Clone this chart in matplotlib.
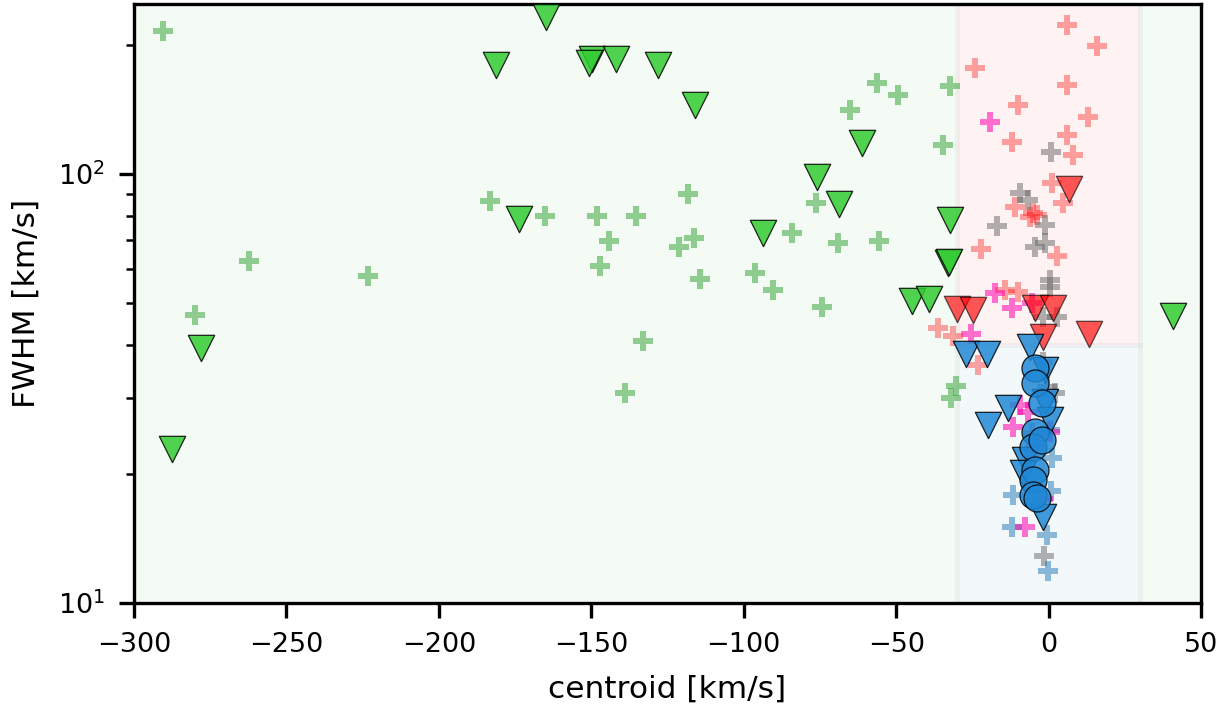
import numpy as np
import matplotlib.pyplot as plt

# broad components (green)
green_tri_x = [-164.8, -287.5, -278.0, -181.2, -149.7, -150.7, -141.9, -128.1, -116.0, -61.2,
               -75.9, -68.7, -173.7, -93.6, -44.8, -39.2, -32.3, -32.9, -32.6, 40.9]
green_tri_y = [232, 22.8, 39.3, 179, 185, 181, 185, 179, 145, 118,
               98.4, 85.1, 78.5, 72.8, 50.6, 51.2, 78.2, 62.1, 62.5, 46.7]
green_plus_x = [-290.5, -262.3, -223.2, -280.0, -183.2, -165.2, -148.1, -135.3, -144.2, -147.1,
                -133.0, -138.9, -118.2, -116.3, -121.2, -114.3, -96.3, -90.4, -84.1, -76.2,
                -74.3, -69.1, -65.1, -56.2, -49.4, -55.5, -32.3, -34.6, -30.3, -31.9]
green_plus_y = [215, 62.7, 57.8, 46.9, 86.5, 79.8, 79.8, 79.8, 69.8, 61.1,
                40.8, 30.8, 89.8, 71.0, 67.6, 56.9, 58.7, 53.7, 72.8, 85.5,
                49.0, 69.1, 141, 163, 153, 69.8, 160, 117, 32.0, 30.1]

# intermediate components (red)
red_tri_x = [6.8, -30.0, -24.7, -4.4, 1.5, -1.8, 13.3]
red_tri_y = [92.3, 48.4, 48.1, 48.8, 48.8, 41.7, 42.4]
red_plus_x = [6.1, 15.9, -24.1, 6.1, -10.0, 13.0, -12.0, 6.1, 8.1, 1.2,
              4.8, -10.9, -6.0, -3.7, -5.0, -22.1, 2.8, -14.2, -10.0, -36.2,
              -31.3, -23.1]
red_plus_y = [222, 199, 177, 161, 145, 136, 119, 123, 111, 95.3,
              85.5, 83.7, 79.4, 80.3, 81.0, 66.8, 64.4, 53.7, 53.1, 43.8,
              41.9, 35.9]

# narrow components (blue)
blue_tri_x = [-27.0, -20.2, -6.0, -1.1, -13.3, -19.8, -1.1, 0.5, -7.7, -8.3, -1.8]
blue_tri_y = [38.0, 38.0, 39.5, 34.9, 28.5, 26.0, 29.4, 26.7, 21.5, 20.1, 15.9]
blue_circ_x = [-4.4, -4.4, -2.1, -4.4, -5.0, -2.1, -4.4, -5.0, -5.0, -3.7]
blue_circ_y = [35.3, 32.6, 29.3, 25.0, 23.1, 24.0, 20.4, 19.4, 17.9, 17.6]
blue_plus_x = [-11.6, 0.9, -11.9, -0.5, -0.1, 1.2, 0.5]
blue_plus_y = [17.9, 18.2, 15.0, 14.4, 11.9, 21.8, 25.3]

# other
gray_plus_x = [0.9, -9.3, -6.7, -1.1, -16.9, -4.4, -1.1, 0.5, 0.5, -1.8,
               2.8, -1.8, -0.5, 2.2, -5.4, -1.4]
gray_plus_y = [112.5, 90.3, 87.0, 76.0, 75.6, 67.6, 69.0, 56.6, 54.6, 46.4,
               46.4, 36.5, 31.9, 30.9, 24.9, 12.9]
pink_plus_x = [-19.2, -17.5, -12.0, -25.4, -5.4, -9.3, -6.7, -11.6, 0.5, -4.4,
               -1.8, -7.7]
pink_plus_y = [132, 52.8, 48.8, 42.4, 50.0, 28.9, 27.9, 25.7, 25.0, 23.0,
               17.5, 15.0]

plt.rcParams['font.family'] = 'DejaVu Sans'
fig = plt.figure(figsize=(1231 / 300, 708 / 300), dpi=300)
ax = fig.add_axes([0.1089, 0.1483, 0.8667, 0.8461])

ymin, ymax = 10, 249
ax.fill_between([-300, -30], ymin, ymax, facecolor='tab:green', alpha=0.05, zorder=0)
ax.fill_between([30, 50], ymin, ymax, facecolor='tab:green', alpha=0.05, zorder=0)
ax.fill_between([-30, 30], 40, ymax, facecolor='red', alpha=0.05, zorder=0)
ax.fill_between([-30, 30], ymin, 40, facecolor='tab:blue', alpha=0.05, zorder=0)
for xs in ([-30, -30], [30, 30]):
    ax.plot(xs, [ymin, ymax], color='0.5', alpha=0.07, lw=1.2, zorder=0)
ax.plot([-30, 30], [40, 40], color='0.5', alpha=0.07, lw=1.2, zorder=0)

plus = dict(marker='P', s=24, linewidths=0, zorder=2)
ax.scatter(green_plus_x, green_plus_y, color='tab:green', alpha=0.5, **plus)
ax.scatter(red_plus_x, red_plus_y, color='red', alpha=0.35, **plus)
ax.scatter(gray_plus_x, gray_plus_y, color='0.4', alpha=0.5, **plus)
ax.scatter(blue_plus_x, blue_plus_y, color='tab:blue', alpha=0.5, **plus)
ax.scatter(pink_plus_x, pink_plus_y, color='#ff00b0', alpha=0.55, **plus)

tri = dict(marker='v', s=40, edgecolors='k', linewidths=0.3, zorder=3)
ax.scatter(green_tri_x, green_tri_y, color='limegreen', alpha=0.85, **tri)
ax.scatter(red_tri_x, red_tri_y, color='red', alpha=0.65, **tri)
ax.scatter(blue_tri_x, blue_tri_y, color='#1f88d6', alpha=0.85, **tri)
ax.scatter(blue_circ_x, blue_circ_y, marker='o', s=42, color='#1f88d6', alpha=0.85,
           edgecolors='k', linewidths=0.3, zorder=3)

ax.set_yscale('log')
ax.set_xlim(-300, 50)
ax.set_ylim(ymin, ymax)
ax.set_xlabel('centroid [km/s]', fontsize=7.5)
ax.set_ylabel('FWHM [km/s]', fontsize=7.5)
ax.tick_params(labelsize=6.5, width=0.8)
for sp in ax.spines.values():
    sp.set_linewidth(0.8)

fig.savefig('out.png', dpi=300)
